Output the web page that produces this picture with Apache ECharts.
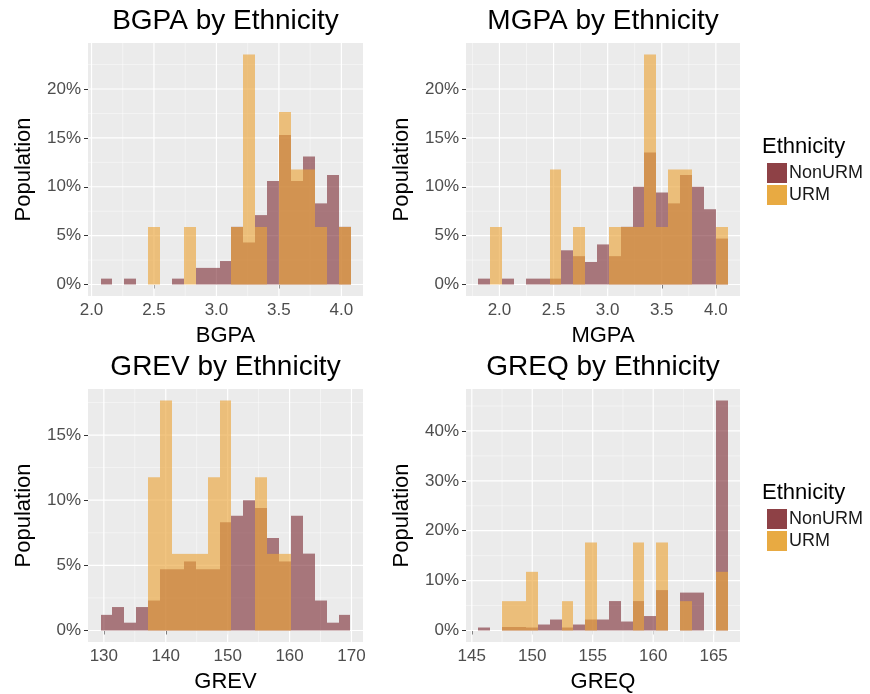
<!DOCTYPE html>
<html><head><meta charset="utf-8">
<script src="https://cdn.jsdelivr.net/npm/echarts@6/dist/echarts.min.js"></script>
<style>html,body{margin:0;padding:0;background:#fff}#c{width:870px;height:694px}</style>
</head><body><div id="c"></div>
<script>
// ---- data (percent of each group) ----
const bgpaEdges = [2.072, 2.167, 2.263, 2.358, 2.453, 2.549, 2.644, 2.739, 2.834, 2.930, 3.025, 3.120, 3.216, 3.311, 3.406, 3.501, 3.597, 3.692, 3.787, 3.883, 3.978, 4.073];
const bgpaNonURM = [0.6, 0, 0.6, 0, 0, 0, 0.6, 0, 1.7, 1.7, 2.4, 5.9, 4.3, 7.1, 10.6, 15.3, 10.6, 13.1, 8.3, 11.2, 5.9];
const bgpaURM    = [0, 0, 0, 0, 5.88, 0, 0, 5.88, 0, 0, 0, 5.88, 23.53, 5.88, 0, 17.65, 11.76, 11.76, 5.88, 0, 5.88];

const mgpaEdges = [1.806, 1.916, 2.025, 2.135, 2.244, 2.354, 2.464, 2.573, 2.683, 2.792, 2.902, 3.012, 3.121, 3.231, 3.340, 3.450, 3.560, 3.669, 3.779, 3.888, 3.998, 4.108];
const mgpaNonURM = [0.6, 0, 0.6, 0, 0.6, 0.6, 0.6, 3.5, 2.9, 2.3, 4.1, 2.9, 5.9, 10.0, 13.5, 9.4, 8.3, 11.2, 10.0, 7.7, 4.7];
const mgpaURM    = [0, 5.88, 0, 0, 0, 0, 11.76, 0, 5.88, 0, 0, 5.88, 5.88, 5.88, 23.53, 5.88, 11.76, 11.76, 0, 0, 5.88];

const grevEdges = [129.46, 131.38, 133.31, 135.23, 137.15, 139.08, 141.00, 142.92, 144.84, 146.77, 148.69, 150.61, 152.54, 154.46, 156.38, 158.30, 160.23, 162.15, 164.07, 166.00, 167.92, 169.84];
const grevNonURM = [1.2, 1.8, 0.6, 1.8, 2.3, 4.7, 4.7, 5.3, 4.7, 4.7, 8.3, 8.8, 10.0, 9.4, 7.1, 5.3, 8.8, 5.9, 2.3, 0.6, 1.2];
const grevURM    = [0, 0, 0, 0, 11.76, 17.65, 5.88, 5.88, 5.88, 11.76, 17.65, 0, 0, 11.76, 5.88, 5.88, 0, 0, 0, 0, 0];

const greqEdges = [145.55, 146.53, 147.51, 148.49, 149.47, 150.46, 151.44, 152.42, 153.40, 154.38, 155.36, 156.34, 157.32, 158.30, 159.28, 160.27, 161.25, 162.23, 163.21, 164.19, 165.17, 166.15];
const greqNonURM = [0.6, 0, 0.7, 0.7, 0.6, 1.2, 2.2, 0.6, 1.2, 2.2, 2.2, 5.9, 1.8, 5.9, 2.9, 8.1, 0, 7.6, 7.6, 0, 46.1];
const greqURM    = [0, 0, 5.88, 5.88, 11.76, 0, 0, 5.88, 0, 17.65, 0, 0, 0, 17.65, 0, 17.65, 0, 5.88, 0, 0, 11.76];

// tick labels
const gpaTicks = [2.0, 2.5, 3.0, 3.5, 4.0];
const bgpaMinor = [2.25, 2.75, 3.25, 3.75];
const mgpaMinor = [1.75, 2.25, 2.75, 3.25, 3.75];
const grevTicks = [130, 140, 150, 160, 170];
const grevMinor = [135, 145, 155, 165];
const greqTicks = [145, 150, 155, 160, 165];
const greqMinor = [147.5, 152.5, 157.5, 162.5];
const pctTicks5 = [0, 5, 10, 15, 20];
const pctMinor5 = [2.5, 7.5, 12.5, 17.5, 22.5];
const grevPct = [0, 5, 10, 15];
const grevPctMinor = [2.5, 7.5, 12.5, 17.5];
const greqPct = [0, 10, 20, 30, 40];
const greqPctMinor = [5, 15, 25, 35, 45];

const groups = ['NonURM', 'URM'];
const titles = ['BGPA by Ethnicity', 'MGPA by Ethnicity', 'GREV by Ethnicity', 'GREQ by Ethnicity'];
const legendTitle = 'Ethnicity';
const yTitle = 'Population';

// ---- styling ----
const FONT = '"Liberation Sans", Arial, Helvetica, sans-serif';
const COL_NON = '#7A2830';
const COL_URM = '#EAA43A';
const LEG_NON = '#8E4146';
const LEG_URM = '#E8AA42';
const ALPHA_NON = 0.6;
const ALPHA_URM = 0.64;
const PANEL_BG = '#EBEBEB';

const panels = [
  {edges: bgpaEdges, non: bgpaNonURM, urm: bgpaURM, xName: 'BGPA', xMaj: gpaTicks, xMin: bgpaMinor, yMaj: pctTicks5, yMin: pctMinor5, dec: 1,
   grid: {left: 88, top: 43, width: 275, height: 253}},
  {edges: mgpaEdges, non: mgpaNonURM, urm: mgpaURM, xName: 'MGPA', xMaj: gpaTicks, xMin: mgpaMinor, yMaj: pctTicks5, yMin: pctMinor5, dec: 1,
   grid: {left: 466, top: 43, width: 274, height: 253}},
  {edges: grevEdges, non: grevNonURM, urm: grevURM, xName: 'GREV', xMaj: grevTicks, xMin: grevMinor, yMaj: grevPct, yMin: grevPctMinor, dec: 0,
   grid: {left: 88, top: 389, width: 275, height: 253}},
  {edges: greqEdges, non: greqNonURM, urm: greqURM, xName: 'GREQ', xMaj: greqTicks, xMin: greqMinor, yMaj: greqPct, yMin: greqPctMinor, dec: 0,
   grid: {left: 466, top: 389, width: 274, height: 253}}
];

function makeBarRender(alpha) {
  return function (params, api) {
    const p0 = api.coord([api.value(0), api.value(2)]);
    const p1 = api.coord([api.value(1), 0]);
    const x0 = Math.round(p0[0]), x1 = Math.round(p1[0]);
    return {type: 'rect', shape: {x: x0, y: p0[1], width: x1 - x0, height: p1[1] - p0[1]},
            style: {fill: api.visual('color'), opacity: alpha}};
  };
}
function gridRender(params, api) {
  const cs = params.coordSys;
  const isY = api.value(2), major = api.value(3);
  let shape;
  if (!isY) {
    const x = api.coord([api.value(0), api.value(1)])[0];
    shape = {x1: x, y1: cs.y, x2: x, y2: cs.y + cs.height};
  } else {
    const y = api.coord([api.value(0), api.value(1)])[1];
    shape = {x1: cs.x, y1: y, x2: cs.x + cs.width, y2: y};
  }
  return {type: 'line', shape: shape, style: {stroke: major ? '#FFFFFF' : 'rgba(255,255,255,0.75)', lineWidth: major ? 1.2 : 0.6}};
}

const grids = [], xAxes = [], yAxes = [], series = [], graphics = [];
panels.forEach((p, i) => {
  const n = p.edges.length - 1;
  const ymax = Math.max(...p.non, ...p.urm);
  const ylo = -0.05 * ymax, yhi = 1.05 * ymax;
  const xr = p.edges[n] - p.edges[0];
  const xlo = p.edges[0] - 0.05 * xr, xhi = p.edges[n] + 0.05 * xr;
  grids.push(Object.assign({show: true, backgroundColor: PANEL_BG, borderWidth: 0}, p.grid));
  xAxes.push({type: 'value', gridIndex: i, min: xlo, max: xhi,
    axisLine: {show: false},
    axisTick: {show: true, customValues: p.xMaj, length: 4, lineStyle: {color: '#333333', width: 1}},
    axisLabel: {customValues: p.xMaj, formatter: v => Number(v).toFixed(p.dec), color: '#4D4D4D', fontSize: 17, margin: 6, fontFamily: FONT},
    splitLine: {show: false},
    name: p.xName, nameLocation: 'middle', nameGap: 29,
    nameTextStyle: {fontSize: 22, color: '#000000', fontFamily: FONT}});
  yAxes.push({type: 'value', gridIndex: i, min: ylo, max: yhi,
    axisLine: {show: false},
    axisTick: {show: true, customValues: p.yMaj, length: 4, lineStyle: {color: '#333333', width: 1}},
    axisLabel: {customValues: p.yMaj, formatter: v => Math.round(v) + '%', color: '#4D4D4D', fontSize: 17, margin: 7, fontFamily: FONT},
    splitLine: {show: false},
    name: yTitle, nameLocation: 'middle', nameGap: 53,
    nameTextStyle: {fontSize: 22, color: '#000000', fontFamily: FONT}});
  const gl = [];
  p.xMaj.forEach(v => gl.push([v, 0, 0, 1]));
  p.xMin.forEach(v => gl.push([v, 0, 0, 0]));
  p.yMaj.forEach(v => gl.push([p.edges[0], v, 1, 1]));
  p.yMin.forEach(v => gl.push([p.edges[0], v, 1, 0]));
  series.push({type: 'custom', xAxisIndex: i, yAxisIndex: i, silent: true, z: 1, renderItem: gridRender,
    encode: {x: 0, y: 1}, data: gl, animation: false});
  const mk = arr => arr.map((v, k) => [p.edges[k], p.edges[k + 1], v]).filter(d => d[2] > 0);
  series.push({type: 'custom', name: groups[0], xAxisIndex: i, yAxisIndex: i, z: 2, renderItem: makeBarRender(ALPHA_NON),
    itemStyle: {color: COL_NON}, encode: {x: [0, 1], y: 2}, data: mk(p.non), animation: false});
  series.push({type: 'custom', name: groups[1], xAxisIndex: i, yAxisIndex: i, z: 3, renderItem: makeBarRender(ALPHA_URM),
    itemStyle: {color: COL_URM}, encode: {x: [0, 1], y: 2}, data: mk(p.urm), animation: false});
  graphics.push({type: 'text', x: p.grid.left + p.grid.width / 2, y: p.grid.top - 22,
    style: {text: titles[i], fontSize: 28, fontFamily: FONT, fill: '#000000', align: 'center', verticalAlign: 'middle'}});
});

// legend titles
[43, 389].forEach(t => {
  graphics.push({type: 'text', x: 762, y: t + 104,
    style: {text: legendTitle, fontSize: 22, fontFamily: FONT, fill: '#000000', align: 'left', verticalAlign: 'middle'}});
});

const legendCommon = {orient: 'vertical', left: 762, itemWidth: 20, itemHeight: 20, itemGap: 2, icon: 'rect', selectedMode: false,
  textStyle: {fontSize: 18, color: '#1A1A1A', fontFamily: FONT, padding: [0, 0, 0, -3]},
  data: [{name: groups[0], itemStyle: {color: LEG_NON}}, {name: groups[1], itemStyle: {color: LEG_URM}}]};

const chart = echarts.init(document.getElementById('c'));
chart.setOption({
  animation: false,
  backgroundColor: '#FFFFFF',
  textStyle: {fontFamily: FONT},
  grid: grids, xAxis: xAxes, yAxis: yAxes, series: series,
  legend: [Object.assign({top: 158}, legendCommon), Object.assign({top: 504}, legendCommon)],
  graphic: graphics
});
</script></body></html>
